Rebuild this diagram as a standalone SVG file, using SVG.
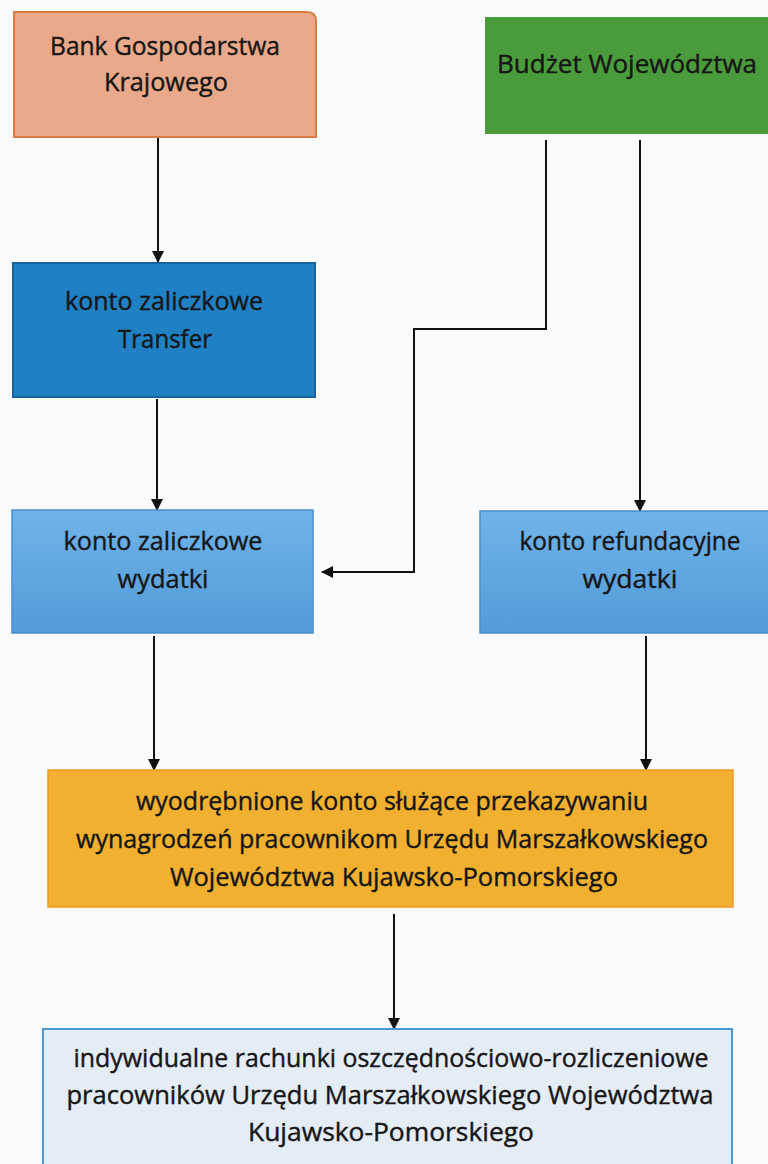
<svg xmlns="http://www.w3.org/2000/svg" width="768" height="1164" viewBox="0 0 768 1164">
  <style>
    .t { font-family: "Open Sans", "Noto Sans", "Liberation Sans", sans-serif; font-size: 26px; fill: #161616; stroke: #161616; stroke-width: 0.4; text-anchor: middle; }
    .c { fill: none; stroke: #111; stroke-width: 2; }
  </style>
  <defs>
    <marker id="arr" markerWidth="12" markerHeight="14" refX="11" refY="6" orient="auto" markerUnits="userSpaceOnUse" viewBox="0 0 12 12">
      <path d="M0,0 L12,6 L0,12 Z" fill="#111"/>
    </marker>
    <linearGradient id="lb" x1="0" y1="0" x2="0" y2="1">
      <stop offset="0" stop-color="#6fb3e8"/>
      <stop offset="1" stop-color="#539bd9"/>
    </linearGradient>
  </defs>
  <rect x="0" y="0" width="768" height="1164" fill="#f9fafc"/>

  <g id="connectors">
    <line class="c" x1="158" y1="138" x2="158" y2="262" marker-end="url(#arr)"/>
    <line class="c" x1="157" y1="399" x2="157" y2="510" marker-end="url(#arr)"/>
    <polyline class="c" points="546,140 546,329 414,329 414,572 322,572" marker-end="url(#arr)"/>
    <line class="c" x1="640" y1="140" x2="640" y2="511" marker-end="url(#arr)"/>
    <line class="c" x1="154" y1="636" x2="154" y2="770" marker-end="url(#arr)"/>
    <line class="c" x1="646" y1="636" x2="646" y2="770" marker-end="url(#arr)"/>
    <line class="c" x1="394" y1="914" x2="394" y2="1029" marker-end="url(#arr)"/>
  </g>

  <g id="bgk">
    <path d="M14,12 H307 Q316,12 316,21 V137 H14 Z" fill="#e9a98a" stroke="#d97c44" stroke-width="2"/>
    <text class="t" x="165" y="55" textLength="230" lengthAdjust="spacingAndGlyphs">Bank Gospodarstwa</text>
    <text class="t" x="166" y="91" textLength="124" lengthAdjust="spacingAndGlyphs">Krajowego</text>
  </g>

  <g id="budzet">
    <rect x="485" y="17" width="290" height="117" fill="#4a9b3b"/>
    <text class="t" x="627" y="73" textLength="260" lengthAdjust="spacingAndGlyphs">Budżet Województwa</text>
  </g>

  <g id="transfer">
    <rect x="13" y="263" width="302" height="134" fill="#1f80c3" stroke="#1a609c" stroke-width="2"/>
    <text class="t" x="164" y="310" textLength="198" lengthAdjust="spacingAndGlyphs">konto zaliczkowe</text>
    <text class="t" x="165" y="348" textLength="94" lengthAdjust="spacingAndGlyphs">Transfer</text>
  </g>

  <g id="zaliczkowe-wydatki">
    <rect x="12" y="510" width="301" height="123" fill="url(#lb)" stroke="#4b8dcc" stroke-width="1.5"/>
    <text class="t" x="163" y="550" textLength="199" lengthAdjust="spacingAndGlyphs">konto zaliczkowe</text>
    <text class="t" x="163" y="588" textLength="91" lengthAdjust="spacingAndGlyphs">wydatki</text>
  </g>

  <g id="refundacyjne-wydatki">
    <rect x="480" y="511" width="295" height="122" fill="url(#lb)" stroke="#4b8dcc" stroke-width="1.5"/>
    <text class="t" x="630" y="550" textLength="221" lengthAdjust="spacingAndGlyphs">konto refundacyjne</text>
    <text class="t" x="630" y="588" textLength="95" lengthAdjust="spacingAndGlyphs">wydatki</text>
  </g>

  <g id="wyodrebnione">
    <rect x="48" y="770" width="685" height="137" fill="#f1b02f" stroke="#ea9a2a" stroke-width="1.5"/>
    <text class="t" x="392" y="810" textLength="512" lengthAdjust="spacingAndGlyphs">wyodrębnione konto służące przekazywaniu</text>
    <text class="t" x="392" y="848" textLength="632" lengthAdjust="spacingAndGlyphs">wynagrodzeń pracownikom Urzędu Marszałkowskiego</text>
    <text class="t" x="394" y="886" textLength="448" lengthAdjust="spacingAndGlyphs">Województwa Kujawsko-Pomorskiego</text>
  </g>

  <g id="indywidualne">
    <rect x="43" y="1029" width="689" height="150" fill="#e4ecf6" stroke="#4f96d1" stroke-width="2"/>
    <text class="t" x="391" y="1067" textLength="635" lengthAdjust="spacingAndGlyphs">indywidualne rachunki oszczędnościowo-rozliczeniowe</text>
    <text class="t" x="390" y="1104" textLength="647" lengthAdjust="spacingAndGlyphs">pracowników Urzędu Marszałkowskiego Województwa</text>
    <text class="t" x="391" y="1141" textLength="286" lengthAdjust="spacingAndGlyphs">Kujawsko-Pomorskiego</text>
  </g>
</svg>
